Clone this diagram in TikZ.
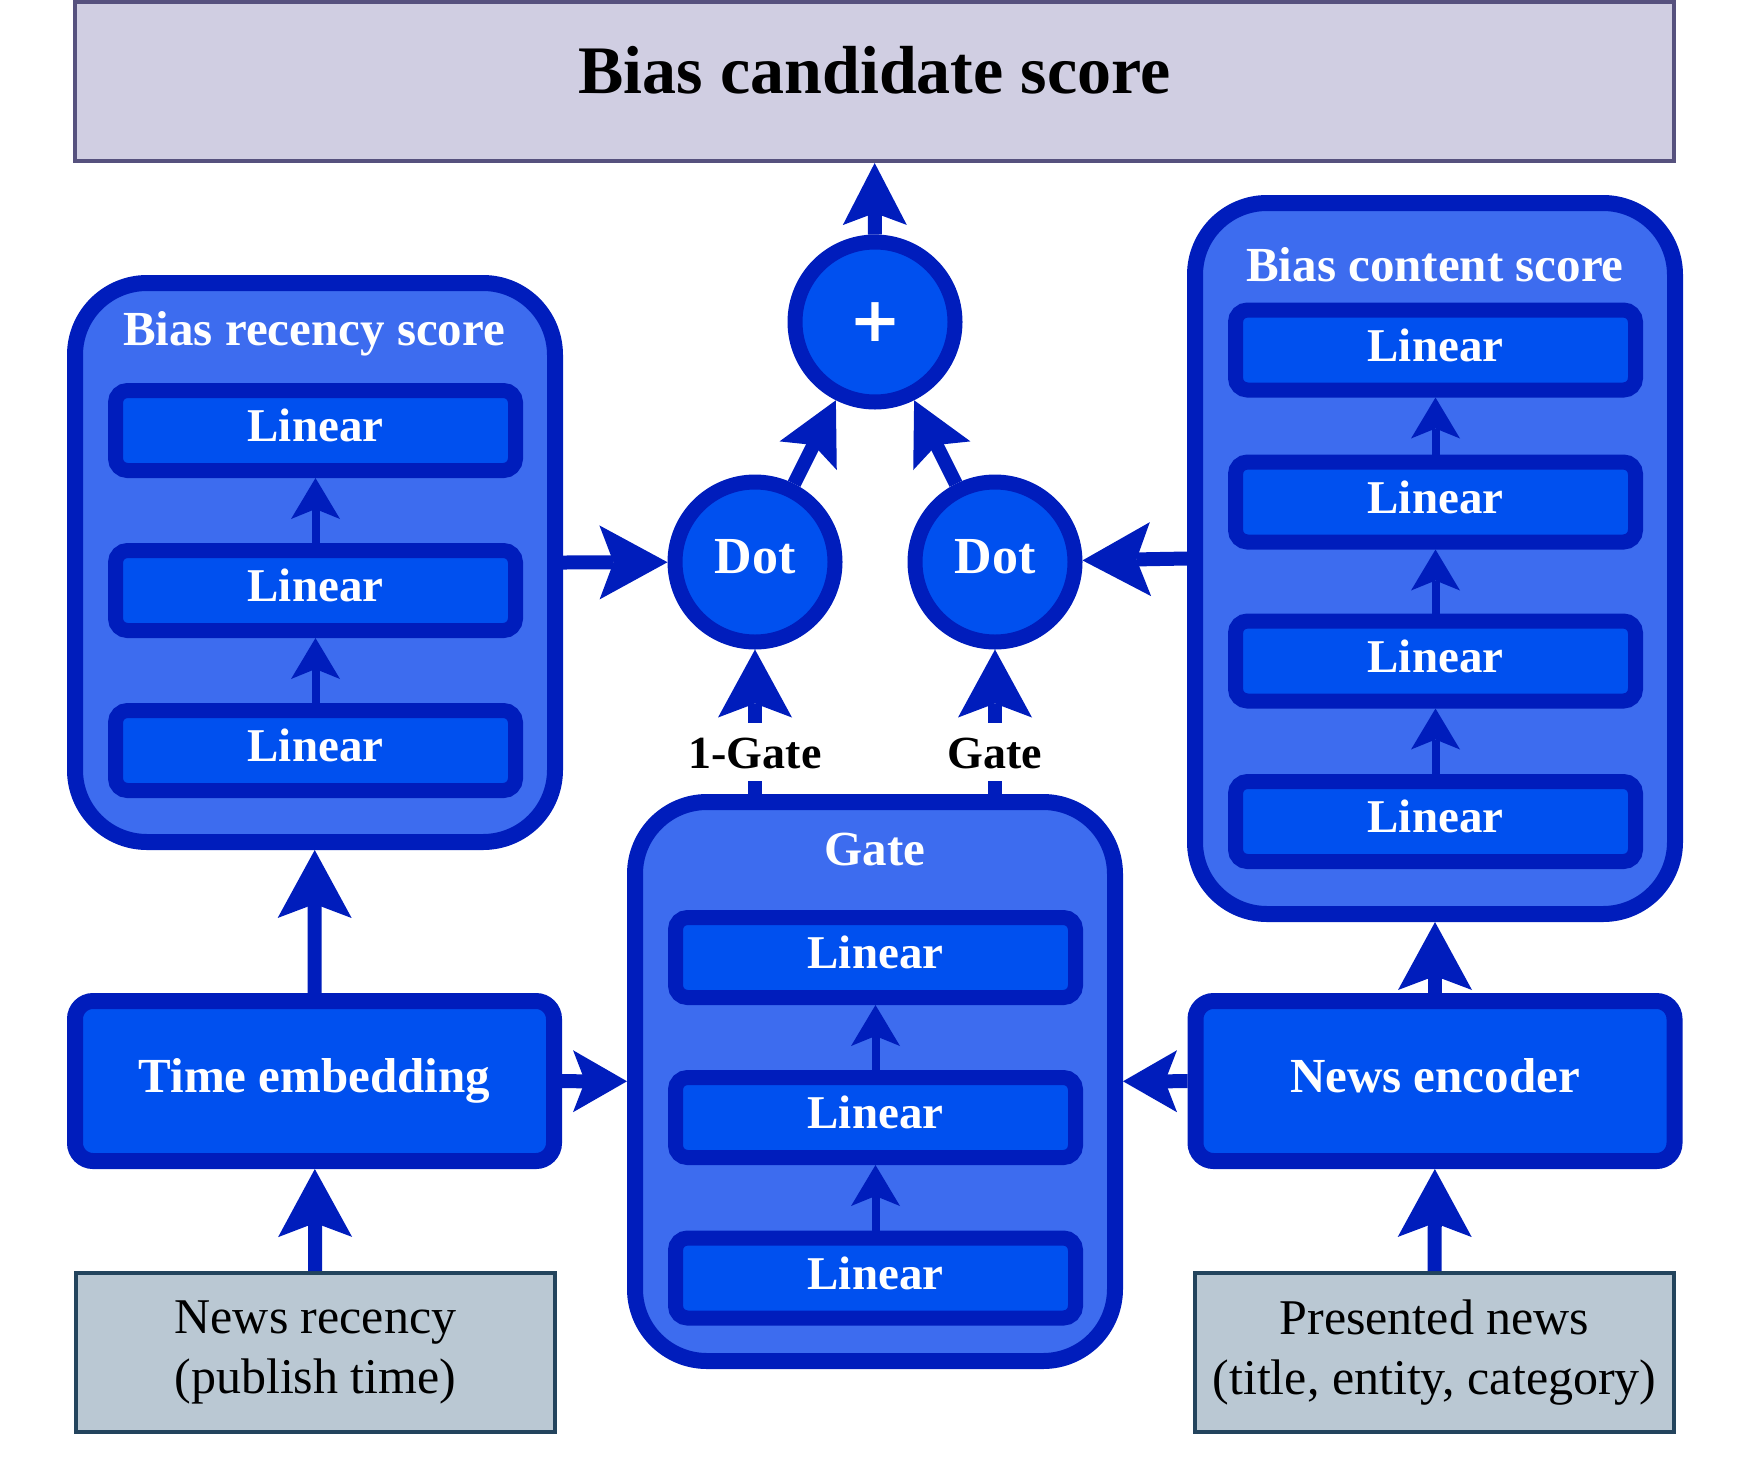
\documentclass[tikz,border=0pt]{standalone}
\usepackage{fontspec}
\setmainfont{Liberation Serif}
\newfontfamily\plusfont{DejaVu Sans}
\usepackage{tikz}
\usetikzlibrary{arrows.meta}
\definecolor{strokeblue}{HTML}{001DBC}
\definecolor{fillblue}{HTML}{0050EF}
\definecolor{groupblue}{HTML}{3D6CEF}
\definecolor{scorefill}{HTML}{D0CEE2}
\definecolor{scoreline}{HTML}{56517E}
\definecolor{inputfill}{HTML}{BAC8D3}
\definecolor{inputline}{HTML}{23445D}

\begin{document}
\begin{tikzpicture}[x=1pt,y=1pt,
  scorebox/.style={draw=scoreline,fill=scorefill,line width=4pt,minimum width=1599pt,minimum height=159pt},
  scoretitle/.style={anchor=base,text=black,font=\fontsize{68}{80}\selectfont\bfseries},
  groupbox/.style={draw=strokeblue,fill=groupblue,line width=16pt,rounded corners=72pt,minimum width=480pt},
  grouptitle/.style={anchor=base,text=white,font=\fontsize{49}{58}\selectfont\bfseries},
  layerbox/.style={draw=strokeblue,fill=fillblue,line width=15pt,rounded corners=12pt,minimum width=400pt,minimum height=80pt,
    text=white,font=\fontsize{47}{56}\selectfont\bfseries,text height=33pt,text depth=11pt},
  blockbox/.style={draw=strokeblue,fill=fillblue,line width=16pt,rounded corners=18pt,minimum width=479pt,minimum height=160pt,
    text=white,font=\fontsize{49}{58}\selectfont\bfseries,text height=34pt,text depth=12pt},
  inputbox/.style={draw=inputline,fill=inputfill,line width=4pt,minimum width=479pt,minimum height=159pt,
    align=center,text=black,font=\fontsize{50}{60}\selectfont},
  opcircle/.style={circle,draw=strokeblue,fill=fillblue,line width=15pt,minimum size=160pt,inner sep=0pt,text=white},
  dotcircle/.style={opcircle,font=\fontsize{52}{60}\selectfont\bfseries,text height=35pt,text depth=12pt},
  flow/.style={draw=strokeblue,line width=14pt,-{Stealth[length=68pt,width=74pt,inset=14pt,line width=0pt]}},
  flowtop/.style={draw=strokeblue,line width=14pt,-{Stealth[length=62pt,width=64pt,inset=12pt,line width=0pt]}},
  flowshort/.style={draw=strokeblue,line width=14pt,-{Stealth[length=54pt,width=62pt,inset=12pt,line width=0pt]}},
  innerflow/.style={draw=strokeblue,line width=8pt,-{Stealth[length=41pt,width=49pt,inset=10pt,line width=0pt]}},
  gatelbl/.style={fill=white,text=black,font=\fontsize{46}{52}\selectfont\bfseries,inner xsep=4pt,inner ysep=13pt,text height=32pt,text depth=0pt}]
\useasboundingbox (0,0) rectangle (1740,-1481);
% Drawing the output box
\node[scorebox] (topbox) at (874.5,-81.5) {};
\node[scoretitle] (toptitle) at (874.5,-93) {Bias candidate score};
% Bias recency score
\node[groupbox,minimum height=559pt] (recency) at (315,-562.5) {};
\node[grouptitle] (rectitle) at (314,-345) {Bias recency score};
\node[layerbox] (recLin3) at (315.5,-430.5) {Linear};
\node[layerbox] (recLin2) at (315.5,-590.5) {Linear};
\node[layerbox] (recLin1) at (315.5,-750.5) {Linear};
% Bias content score
\node[groupbox,minimum height=711pt] (content) at (1435,-558.5) {};
\node[grouptitle] (contitle) at (1435,-281) {Bias content score};
\node[layerbox] (conLin4) at (1435.5,-350) {Linear};
\node[layerbox] (conLin3) at (1435.5,-502) {Linear};
\node[layerbox] (conLin2) at (1435.5,-661) {Linear};
\node[layerbox] (conLin1) at (1435.5,-821.5) {Linear};
% Gate
\node[groupbox,minimum height=559pt] (gate) at (875,-1081.5) {};
\node[grouptitle] (gatetitle) at (875,-865) {Gate};
\node[layerbox] (gateLin3) at (875.5,-957.5) {Linear};
\node[layerbox] (gateLin2) at (875.5,-1117.5) {Linear};
\node[layerbox] (gateLin1) at (875.5,-1278) {Linear};
% Encoders and inputs
\node[blockbox] (timeemb) at (314.5,-1081) {Time embedding};
\node[blockbox] (newsenc) at (1435,-1081) {News encoder};
\node[inputbox] (newsrec) at (315.5,-1352.5) {News recency\\(publish time)};
\node[inputbox] (presented) at (1434.5,-1352.5) {Presented news\\(title, entity, category)};
% Combining nodes
\node[opcircle,font=\fontsize{62}{70}\plusfont\bfseries] (plus) at (875,-322) {+};
\node[dotcircle] (dotL) at (755,-562) {Dot};
\node[dotcircle] (dotR) at (995,-562) {Dot};
% Done with nodes; drawing arrows
\draw[innerflow] (recLin1) -- (recLin2);
\draw[innerflow] (recLin2) -- (recLin3);
\draw[innerflow] (conLin1) -- (conLin2);
\draw[innerflow] (conLin2) -- (conLin3);
\draw[innerflow] (conLin3) -- (conLin4);
\draw[innerflow] (gateLin1) -- (gateLin2);
\draw[innerflow] (gateLin2) -- (gateLin3);
\draw[flow] (newsrec) -- (timeemb);
\draw[flow] (presented) -- (newsenc);
\draw[flow] (timeemb) -- (recency);
\draw[flow] (newsenc) -- (content);
\draw[flowshort] (timeemb) -- (gate);
\draw[flowshort] (newsenc) -- (gate);
\draw[flow] (recency.east) -- (dotL);
\draw[flow] (content.west) -- (dotR);
\draw[flow] (gate.north -| dotL) -- node[gatelbl,pos=0.29] (lblOne) {1-Gate} (dotL);
\draw[flow] (gate.north -| dotR) -- node[gatelbl,pos=0.29] (lblGate) {Gate} (dotR);
\draw[flowtop] (dotL) -- (plus);
\draw[flowtop] (dotR) -- (plus);
\draw[flowtop] (plus) -- (topbox);
% Done with arrows
\end{tikzpicture}
\end{document}
